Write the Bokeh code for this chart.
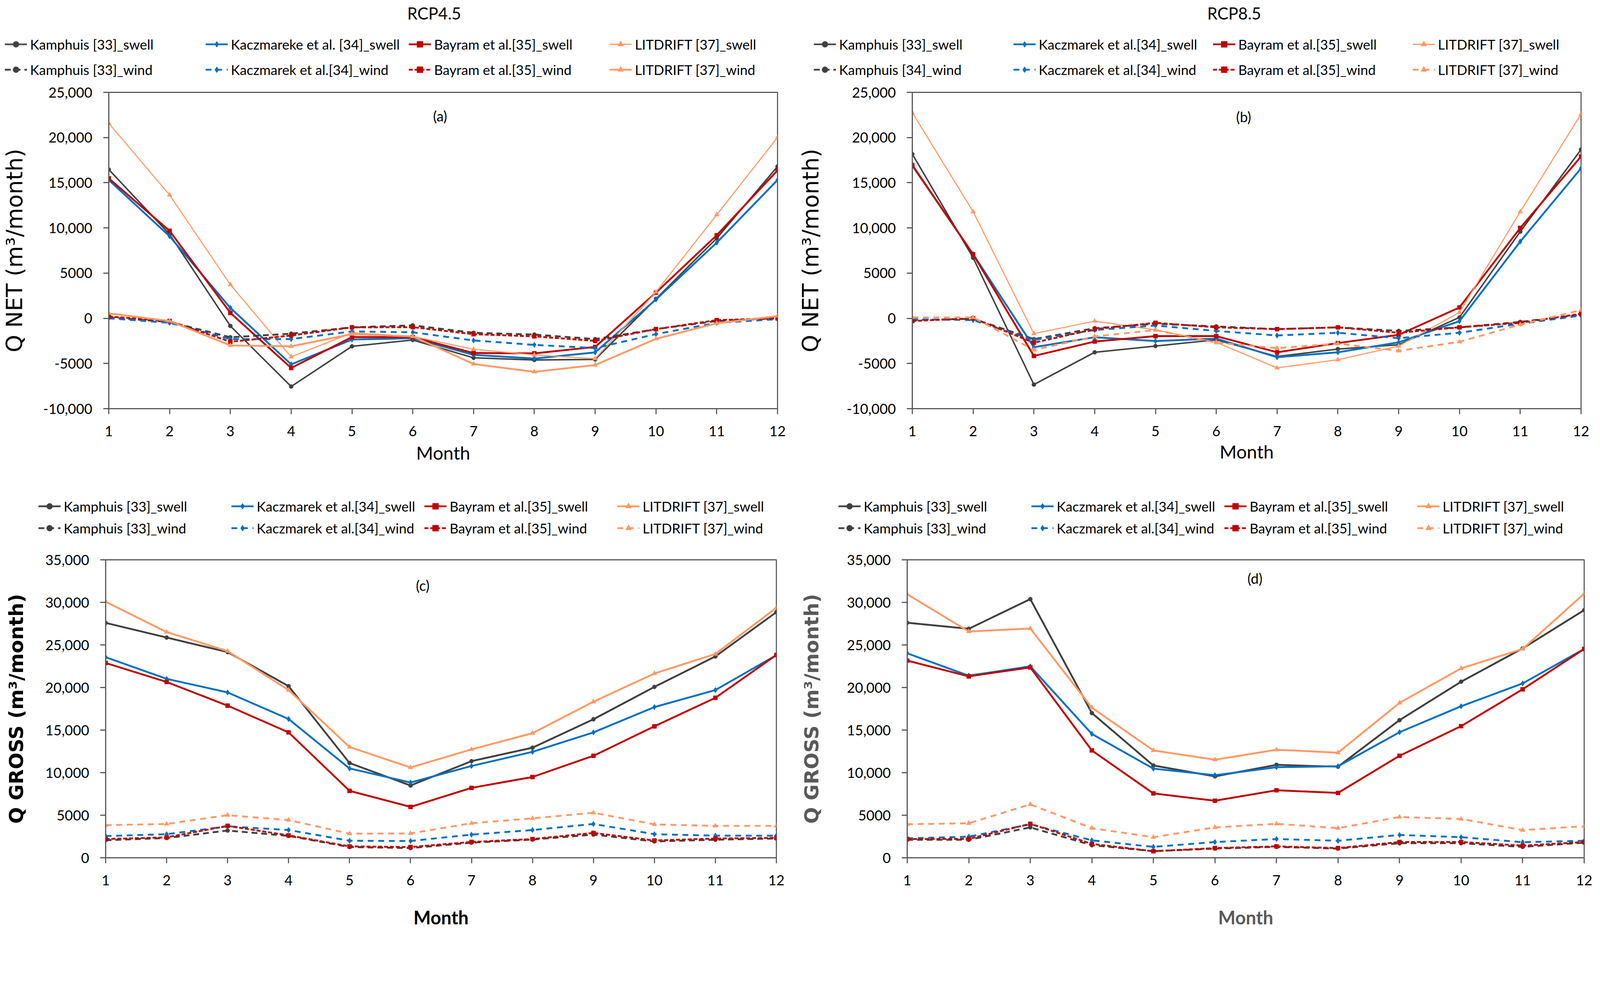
from bokeh.plotting import figure
from bokeh.models import Range1d, FixedTicker, Legend, LegendItem, Label
from bokeh.layouts import column, row
from bokeh.embed import file_html
from bokeh.resources import INLINE

months = list(range(1, 13))

# ---------------- data (m3/month) ----------------
# (a) RCP4.5 Q NET
kam_swell_a = [16460, 9300, -850, -7550, -3100, -2400, -4370, -4610, -4550, 2150, 8850, 16800]
kac_swell_a = [15300, 9080, 1150, -5100, -2350, -2200, -4045, -4450, -3770, 2080, 8370, 15300]
bay_swell_a = [15480, 9680, 600, -5500, -2080, -2080, -3840, -3880, -3170, 2840, 9190, 16380]
lit_swell_a = [21580, 13650, 3720, -4270, -1600, -2000, -3430, -4050, -4460, 2900, 11460, 20020]
kam_wind_a = [100, -400, -2100, -1700, -1000, -780, -1600, -1800, -2300, -1200, -300, 0]
kac_wind_a = [0, -500, -2300, -2300, -1450, -1550, -2450, -2940, -3300, -1750, -500, -100]
bay_wind_a = [200, -300, -2600, -1900, -1000, -980, -1760, -2000, -2500, -1200, -200, 0]
lit_wind_a = [550, -300, -3000, -3100, -1750, -2000, -5060, -5920, -5170, -2270, -550, 250]

# (b) RCP8.5 Q NET
kam_swell_b = [18170, 6700, -7330, -3760, -3070, -2380, -4230, -3400, -2930, 100, 9590, 18670]
kac_swell_b = [16900, 7100, -3200, -2100, -2520, -2240, -4310, -3760, -2660, -310, 8490, 16600]
bay_swell_b = [16960, 7080, -4170, -2570, -1970, -1970, -3760, -2740, -1830, 1200, 10000, 17900]
lit_swell_b = [22750, 11800, -1700, -310, -1280, -2660, -5490, -4580, -3070, 650, 11800, 22590]
kam_wind_b = [-200, -50, -2300, -1100, -600, -900, -1200, -1000, -1400, -1000, -400, 400]
kac_wind_b = [-100, -200, -2400, -1300, -800, -1400, -1900, -1600, -2200, -1600, -600, 300]
bay_wind_b = [-300, 0, -2700, -1200, -500, -1000, -1200, -1000, -1600, -1000, -500, 500]
lit_wind_b = [100, 100, -3500, -2000, -1300, -2700, -3300, -2800, -3600, -2600, -700, 900]

# (c) RCP4.5 Q GROSS
kam_swell_c = [27590, 25870, 24160, 20160, 11130, 8490, 11350, 12930, 16270, 20070, 23650, 28850]
kac_swell_c = [23560, 21020, 19420, 16300, 10490, 8840, 10780, 12440, 14730, 17700, 19700, 23790]
bay_swell_c = [22880, 20650, 17870, 14730, 7860, 5980, 8210, 9490, 11980, 15440, 18790, 23820]
lit_swell_c = [30080, 26510, 24280, 19700, 13010, 10610, 12730, 14640, 18330, 21650, 23940, 29370]
kam_wind_c = [2060, 2320, 3200, 2570, 1260, 1140, 1770, 2140, 2720, 1920, 2120, 2260]
kac_wind_c = [2550, 2770, 3690, 3260, 2000, 1970, 2720, 3260, 3970, 2770, 2600, 2600]
bay_wind_c = [2200, 2400, 3750, 2630, 1340, 1260, 1860, 2200, 2920, 2030, 2260, 2340]
lit_wind_c = [3830, 3970, 5000, 4430, 2830, 2860, 4060, 4630, 5290, 3920, 3750, 3750]

# (d) RCP8.5 Q GROSS
kam_swell_d = [27610, 26900, 30380, 17000, 10840, 9560, 10920, 10700, 16170, 20680, 24590, 29090]
kac_swell_d = [24020, 21390, 22480, 14550, 10470, 9700, 10640, 10750, 14750, 17800, 20480, 24530]
bay_swell_d = [23160, 21310, 22360, 12610, 7560, 6700, 7930, 7620, 11980, 15460, 19790, 24530]
lit_swell_d = [30950, 26580, 26930, 17630, 12610, 11520, 12690, 12350, 18200, 22250, 24530, 31030]
kam_wind_d = [2110, 2110, 3570, 1480, 770, 1080, 1280, 1080, 1710, 1710, 1280, 1770]
kac_wind_d = [2280, 2480, 3940, 2050, 1280, 1850, 2200, 2000, 2680, 2420, 1830, 2000]
bay_wind_d = [2200, 2220, 3990, 1630, 770, 1140, 1340, 1140, 1850, 1850, 1430, 1850]
lit_wind_d = [3940, 4050, 6270, 3480, 2420, 3570, 3990, 3480, 4790, 4560, 3250, 3710]

# legend labels
labels_a = ["Kamphuis [33]_swell", "Kaczmareke et al. [34]_swell", "Bayram et al.[35]_swell", "LITDRIFT [37]_swell",
            "Kamphuis [33]_wind", "Kaczmarek et al.[34]_wind", "Bayram et al.[35]_wind", "LITDRIFT [37]_wind"]
labels_b = ["Kamphuis [33]_swell", "Kaczmarek et al.[34]_swell", "Bayram et al.[35]_swell", "LITDRIFT [37]_swell",
            "Kamphuis [34]_wind", "Kaczmarek et al.[34]_wind", "Bayram et al.[35]_wind", "LITDRIFT [37]_wind"]
labels_cd = ["Kamphuis [33]_swell", "Kaczmarek et al.[34]_swell", "Bayram et al.[35]_swell", "LITDRIFT [37]_swell",
             "Kamphuis [33]_wind", "Kaczmarek et al.[34]_wind", "Bayram et al.[35]_wind", "LITDRIFT [37]_wind"]

net_ticks = [-10000, -5000, 0, 5000, 10000, 15000, 20000, 25000]
net_tick_labels = ["-10,000", "-5000", "0", "5000", "10,000", "15,000", "20,000", "25,000"]
gross_ticks = [0, 5000, 10000, 15000, 20000, 25000, 30000, 35000]
gross_tick_labels = ["0", "5000", "10,000", "15,000", "20,000", "25,000", "30,000", "35,000"]

# ---------------- styles ----------------
S = 4096.0 / 4342.0  # page is photographed with this css scale


def px(v):
    return int(round(v * S))


def fs(v):
    return "%dpx" % px(v)


COLORS = ["#404040", "#0070C0", "#C00000", "#FF9966"]
MARKERS = ["circle", "diamond", "square", "triangle"]
MSIZE = [11, 15, 11, 13]
AXC = "#595959"
FONT = "Lato"
LBLFONT = "DejaVu Sans"


def add_series(p, swell, wind, cfg, visible=True):
    sw, wd = [], []
    for i in range(4):
        lr = p.line(months, swell[i], line_color=COLORS[i], line_width=cfg["swell_w"][i] * S, visible=visible)
        sr = p.scatter(months, swell[i], marker=MARKERS[i], size=MSIZE[i] * S,
                       fill_color=COLORS[i], line_color=COLORS[i], visible=visible)
        sw.append([lr, sr])
    for i in range(4):
        lr = p.line(months, wind[i], line_color=COLORS[i], line_width=cfg["wind_w"][i] * S,
                    line_dash=cfg["wind_dash"][i], visible=visible)
        sr = p.scatter(months, wind[i], marker=MARKERS[i], size=MSIZE[i] * S,
                       fill_color=COLORS[i], line_color=COLORS[i], visible=visible)
        wd.append([lr, sr])
    return sw + wd


def make_legend_fig(swell, wind, labels, cfg):
    lg = cfg["legend"]
    W, H = px(cfg["W"]), px(lg["H"])
    p = figure(width=W, height=H, output_backend="svg", toolbar_location=None,
               x_range=Range1d(1, 12), y_range=Range1d(*cfg["yr"]), title=None,
               x_axis_location=None, y_axis_location=None,
               min_border_top=0, min_border_bottom=0, min_border_left=0, min_border_right=0)
    p.outline_line_color = None
    p.xgrid.visible = False
    p.ygrid.visible = False
    p.background_fill_color = "white"
    p.border_fill_color = "white"
    rends = add_series(p, swell, wind, cfg, visible=False)
    items = [LegendItem(label=labels[k], renderers=rends[k]) for k in range(8)]
    legend = Legend(items=items, location=(px(lg["x"]), px(lg["y"])),
                    orientation="horizontal", ncols=4,
                    label_text_font=FONT, label_text_font_size=fs(37), label_text_color="black",
                    glyph_width=px(60), glyph_height=px(40), label_height=px(40), label_width=px(lg["lw"]),
                    label_standoff=px(8), spacing=px(lg["sp"]), padding=0, margin=0,
                    border_line_alpha=0, background_fill_alpha=0)
    p.add_layout(legend)
    if cfg.get("title"):
        p.add_layout(Label(x=px(cfg["title_x"]), y=px(lg["H"] - 36), x_units="screen", y_units="screen",
                           text=cfg["title"], text_font=FONT, text_font_size=fs(44),
                           text_align="center", text_baseline="middle", text_color="black"))
    return p


def make_panel(swell, wind, cfg):
    W, H = px(cfg["W"]), px(cfg["H"])
    bt, bb, bl, br = [px(v) for v in cfg["borders"]]
    p = figure(width=W, height=H, output_backend="svg", toolbar_location=None,
               x_range=Range1d(1, 12), y_range=Range1d(*cfg["yr"]), title=None,
               min_border_top=bt, min_border_bottom=bb, min_border_left=bl, min_border_right=br)
    p.background_fill_color = "white"
    p.border_fill_color = "white"
    p.outline_line_color = AXC
    p.outline_line_width = 3 * S
    p.xgrid.visible = False
    p.ygrid.visible = False

    add_series(p, swell, wind, cfg)

    xa = p.xaxis[0]
    ya = p.yaxis[0]
    xa.ticker = FixedTicker(ticks=months)
    ya.ticker = FixedTicker(ticks=cfg["ticks"])
    ya.major_label_overrides = {t: s for t, s in zip(cfg["ticks"], cfg["tick_labels"])}
    for ax in (xa, ya):
        ax.axis_line_color = AXC
        ax.axis_line_width = 3 * S
        ax.major_tick_line_color = AXC
        ax.major_tick_line_width = 3 * S
        ax.major_tick_in = 0
        ax.major_tick_out = px(15)
        ax.minor_tick_line_color = None
        ax.major_label_text_font = FONT
        ax.major_label_text_font_size = fs(38)
        ax.major_label_text_color = "black"
    xa.major_label_standoff = px(32)
    ya.major_label_standoff = px(30)
    xa.axis_label = "Month"
    xa.axis_label_text_font = FONT
    xa.axis_label_text_font_size = fs(50)
    xa.axis_label_text_font_style = cfg["bold"]
    xa.axis_label_text_color = cfg["lblcolor"]
    xa.axis_label_standoff = px(cfg["xstand"])
    ya.axis_label = cfg["ylabel"]
    ya.axis_label_text_font = LBLFONT
    ya.axis_label_text_font_size = fs(cfg["ylsize"])
    ya.axis_label_text_font_style = cfg["bold"]
    ya.axis_label_text_color = cfg["lblcolor"]
    ya.axis_label_standoff = px(cfg["ystand"])

    p.add_layout(Label(x=cfg["tag"][0], y=cfg["tag"][1], text=cfg["tag"][2], text_font=FONT,
                       text_font_size=fs(38), text_align="center", text_baseline="middle",
                       text_color="black"))
    return p


# design sizes in reference pixels (scaled by S when applied)
cfg_a = dict(W=2160, H=1080, borders=(30, 192, 286, 51), yr=(-10000, 25000), ticks=net_ticks,
             tick_labels=net_tick_labels, ylabel="Q NET (m³/month)", bold="normal", lblcolor="black",
             ylsize=60, xstand=12, ystand=40,
             swell_w=[4, 5, 5, 3], wind_w=[5, 5, 5, 5], wind_dash=["15 10", "15 12", "10 5", "solid"],
             legend=dict(H=221, x=13, y=10, lw=452, sp=24), tag=(6.45, 22400, "(a)"),
             title="RCP4.5", title_x=1178)
cfg_b = dict(W=2160, H=1080, borders=(30, 192, 296, 31), yr=(-10000, 25000), ticks=net_ticks,
             tick_labels=net_tick_labels, ylabel="Q NET (m³/month)", bold="normal", lblcolor="black",
             ylsize=60, xstand=8, ystand=60,
             swell_w=[4, 5, 5, 3], wind_w=[5, 5, 5, 5], wind_dash=["15 10", "15 12", "10 5", "15 12"],
             legend=dict(H=221, x=48, y=10, lw=448, sp=24), tag=(6.45, 22300, "(b)"),
             title="RCP8.5", title_x=1188)
cfg_c = dict(W=2160, H=1045, borders=(30, 207, 286, 54), yr=(0, 35000), ticks=gross_ticks,
             tick_labels=gross_tick_labels, ylabel="Q GROSS (m³/month)", bold="bold", lblcolor="black",
             ylsize=53, xstand=54, ystand=44,
             swell_w=[5, 5, 5, 5], wind_w=[5, 5, 5, 5], wind_dash=["15 10", "15 12", "10 5", "15 12"],
             legend=dict(H=189, x=104, y=34, lw=440, sp=15), tag=(6.2, 32000, "(c)"))
cfg_d = dict(W=2160, H=1045, borders=(30, 207, 301, 22), yr=(0, 35000), ticks=gross_ticks,
             tick_labels=gross_tick_labels, ylabel="Q GROSS (m³/month)", bold="bold", lblcolor=AXC,
             ylsize=53, xstand=54, ystand=62,
             swell_w=[5, 5, 5, 5], wind_w=[5, 5, 5, 5], wind_dash=["15 10", "15 12", "10 5", "15 12"],
             legend=dict(H=189, x=114, y=34, lw=440, sp=15), tag=(6.65, 32800, "(d)"))

SW_A = [kam_swell_a, kac_swell_a, bay_swell_a, lit_swell_a]
WD_A = [kam_wind_a, kac_wind_a, bay_wind_a, lit_wind_a]
SW_B = [kam_swell_b, kac_swell_b, bay_swell_b, lit_swell_b]
WD_B = [kam_wind_b, kac_wind_b, bay_wind_b, lit_wind_b]
SW_C = [kam_swell_c, kac_swell_c, bay_swell_c, lit_swell_c]
WD_C = [kam_wind_c, kac_wind_c, bay_wind_c, lit_wind_c]
SW_D = [kam_swell_d, kac_swell_d, bay_swell_d, lit_swell_d]
WD_D = [kam_wind_d, kac_wind_d, bay_wind_d, lit_wind_d]

la = make_legend_fig(SW_A, WD_A, labels_a, cfg_a)
lb = make_legend_fig(SW_B, WD_B, labels_b, cfg_b)
lc = make_legend_fig(SW_C, WD_C, labels_cd, cfg_c)
ld = make_legend_fig(SW_D, WD_D, labels_cd, cfg_d)
pa = make_panel(SW_A, WD_A, cfg_a)
pb = make_panel(SW_B, WD_B, cfg_b)
pc = make_panel(SW_C, WD_C, cfg_c)
pd = make_panel(SW_D, WD_D, cfg_d)

layout = column(row(la, lb), row(pa, pb), row(lc, ld), row(pc, pd))
open("out.html", "w").write(file_html(layout, INLINE))
